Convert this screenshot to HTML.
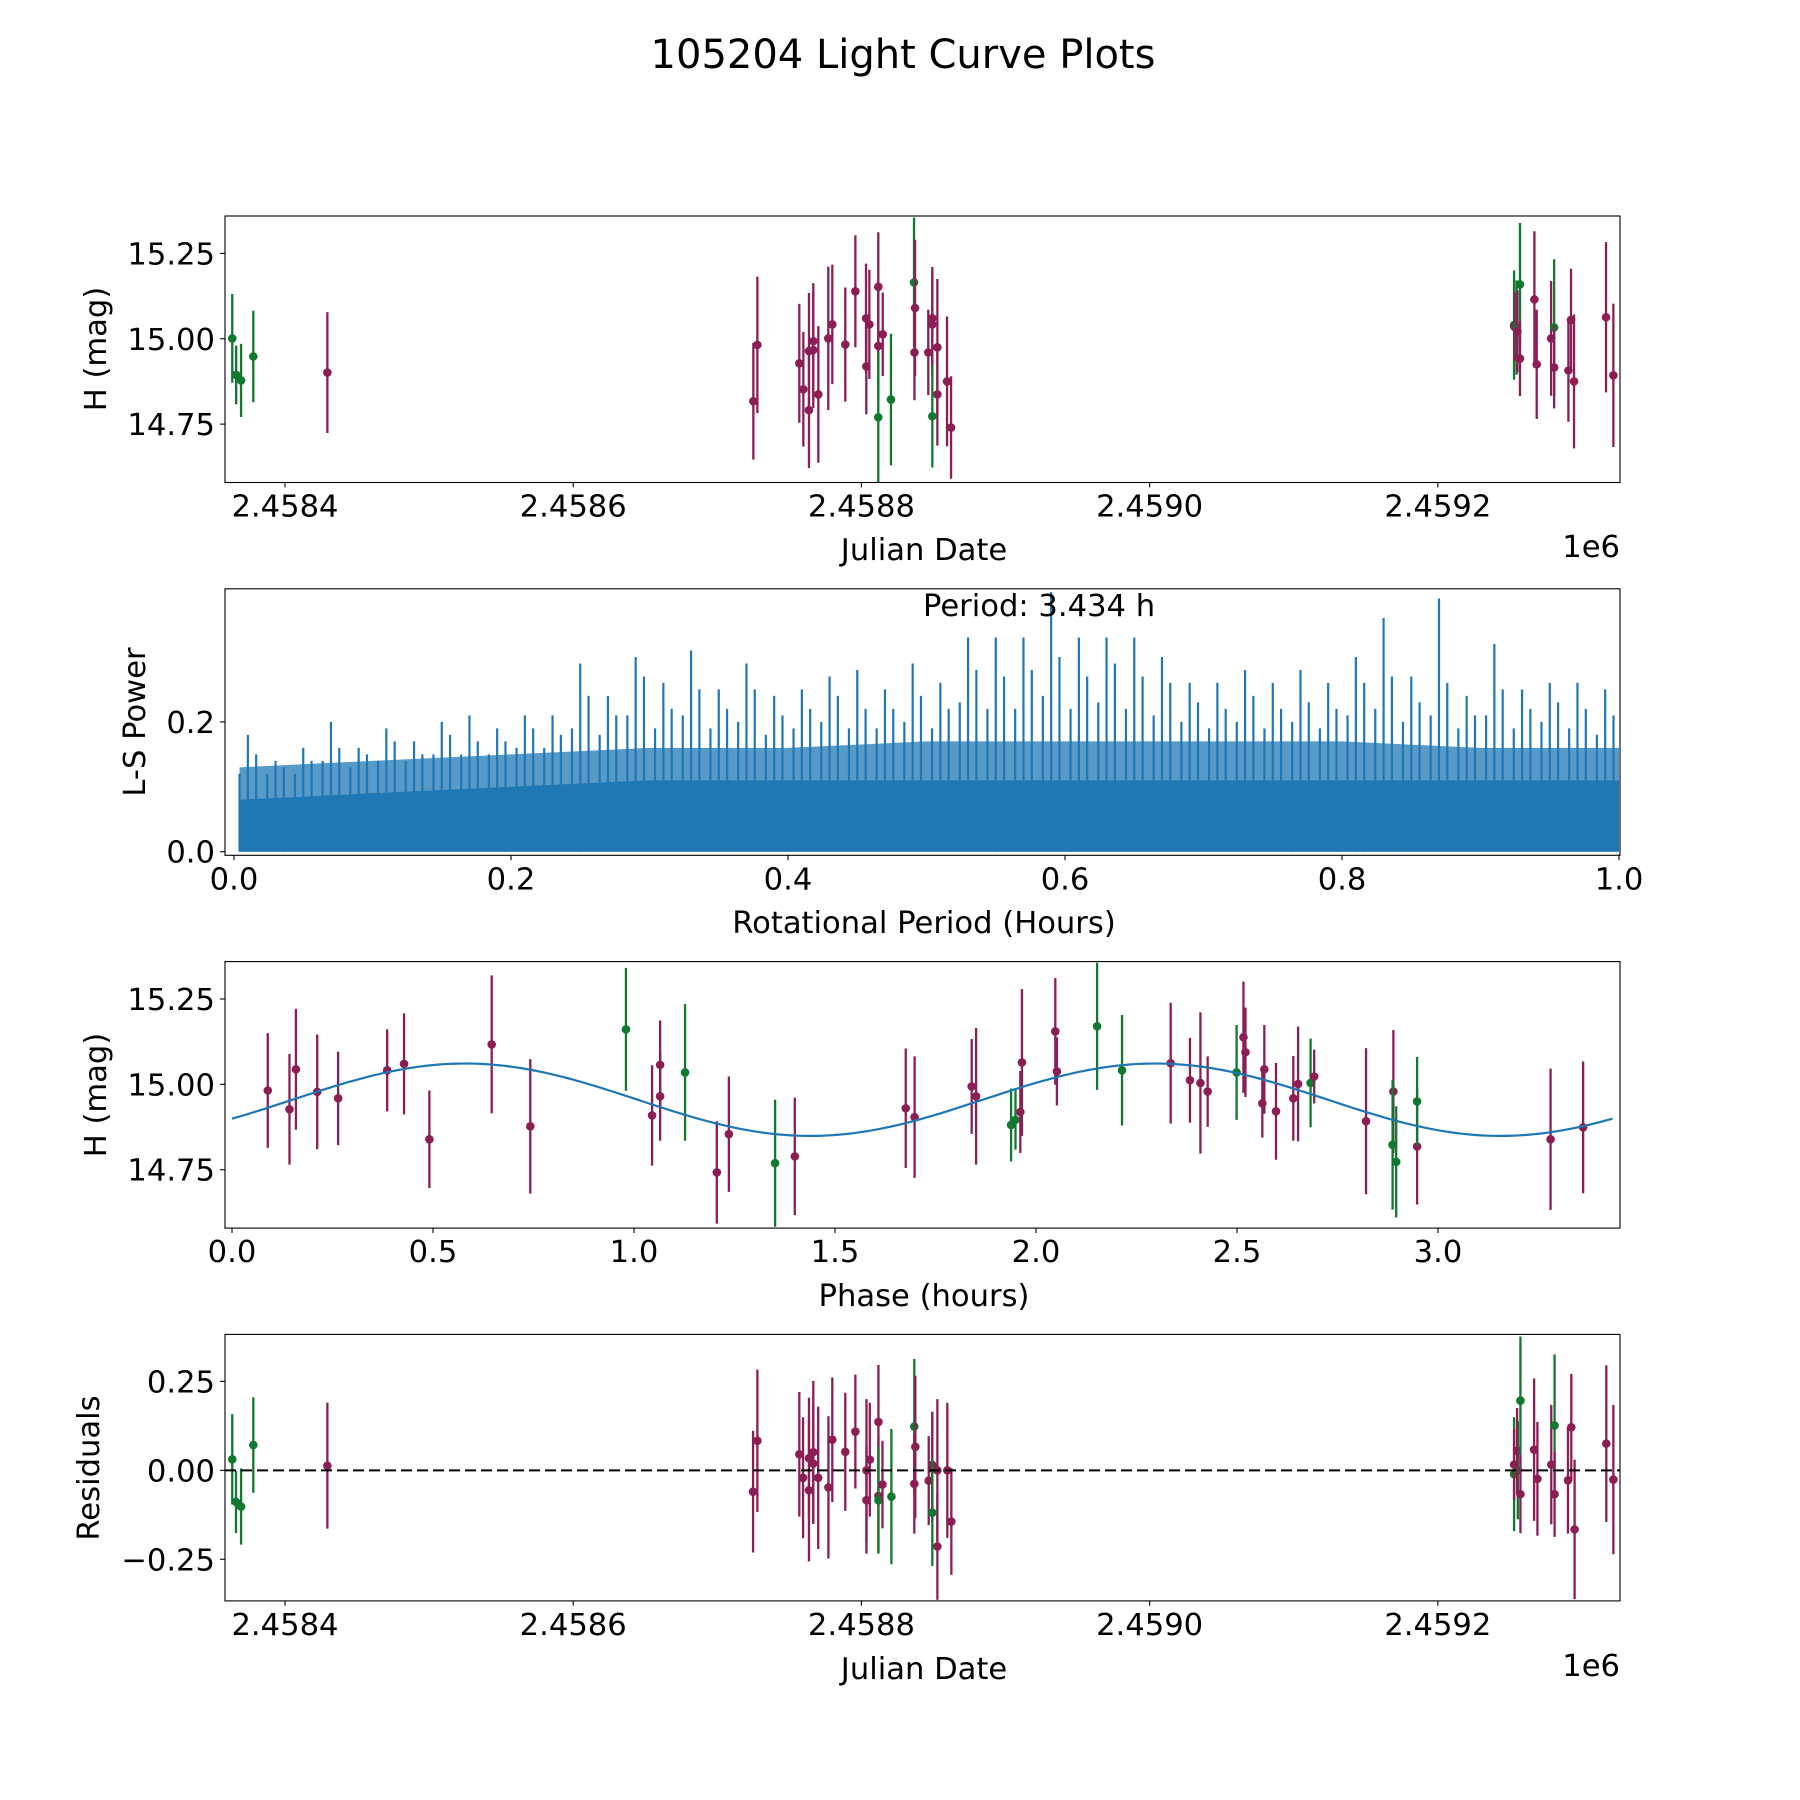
<!DOCTYPE html>
<html><head><meta charset="utf-8"><title>105204 Light Curve Plots</title>
<style>
html,body{margin:0;padding:0;background:#fff;}
svg{display:block;font-family:"DejaVu Sans","Liberation Sans",sans-serif;}
text{fill:#000;}
</style></head>
<body>
<svg id="fig" width="1800" height="1800" viewBox="0 0 1800 1800" xmlns="http://www.w3.org/2000/svg">
<rect x="0" y="0" width="1800" height="1800" fill="#fff"/>
<text x="903" y="68" font-size="40" text-anchor="middle">105204 Light Curve Plots</text>
<g id="p1"></g>
<g id="p2"></g>
<g id="p3"></g>
<g id="p4"></g>
<text x="924" y="560" font-size="30.6" text-anchor="middle">Julian Date</text>
<text x="1620" y="557" font-size="30.6" text-anchor="end">1e6</text>
<text transform="translate(106,349) rotate(-90)" font-size="30.6" text-anchor="middle">H (mag)</text>
<text x="923" y="616" font-size="30.6" text-anchor="start">Period: 3.434 h</text>
<text x="924" y="933" font-size="30.6" text-anchor="middle">Rotational Period (Hours)</text>
<text transform="translate(145,722) rotate(-90)" font-size="30.6" text-anchor="middle">L-S Power</text>
<text x="924" y="1306" font-size="30.6" text-anchor="middle">Phase (hours)</text>
<text transform="translate(106,1095) rotate(-90)" font-size="30.6" text-anchor="middle">H (mag)</text>
<text x="924" y="1679" font-size="30.6" text-anchor="middle">Julian Date</text>
<text x="1620" y="1676" font-size="30.6" text-anchor="end">1e6</text>
<text transform="translate(99,1468) rotate(-90)" font-size="30.6" text-anchor="middle">Residuals</text>
</svg>
<script>
// ---------- data: light curve (days from JD 2458400) ----------
const lcDay = [-36.6,-33.9,-30.5,-22,29.4,
 325,327.8,356.9,359.7,363.6,363.6,366.6,366.6,370.1,377,379.8,388.8,395.8,403.2,405.5,403.4,411.7,411.7,414.8,411.7,420.5,436.5,437.2,436.8,446.4,449.2,449.2,452.7,452.7,449.2,459.4,462.2,
 852.9,853.2,854.7,855.2,857,857,867,868.6,878.6,880.7,880.7,890.6,892.4,894.5,916.7,921.8];
const lcMag = [15.001,14.894,14.878,14.948,14.901,
 14.817,14.982,14.928,14.852,14.791,14.964,14.993,14.967,14.837,15.001,15.042,14.983,15.139,15.06,15.042,14.919,15.152,14.979,15.013,14.77,14.822,15.165,15.09,14.96,14.96,15.06,15.042,14.975,14.837,14.773,14.875,14.74,
 15.04,15.035,15.033,15.022,15.159,14.942,15.115,14.925,15.001,15.033,14.916,14.907,15.055,14.875,15.063,14.893];
const lcErr = [0.13,0.086,0.107,0.134,0.177,
 0.171,0.2,0.174,0.168,0.17,0.17,0.17,0.17,0.2,0.21,0.175,0.167,0.164,0.16,0.16,0.14,0.16,0.16,0.122,0.19,0.193,0.19,0.2,0.14,0.125,0.15,0.15,0.2,0.15,0.15,0.19,0.15,
 0.16,0.1,0.138,0.12,0.18,0.11,0.2,0.16,0.168,0.2,0.12,0.15,0.15,0.196,0.22,0.21];
const lcBand = ["G","G","G","G","P",
 "P","P","P","P","P","P","P","P","P","P","P","P","P","P","P","P","P","P","P","G","G","G","P","P","P","P","P","P","P","G","P","P",
 "G","P","G","P","G","P","P","P","P","G","P","P","P","P","P","P"];
const jdTicks = [0,200,400,600,800];
const jdTickLabels = ["2.4584","2.4586","2.4588","2.4590","2.4592"];
const magTicks = [14.75,15.0,15.25];
const magTickLabels = ["14.75","15.00","15.25"];

// ---------- data: periodogram (bins of 0.02 h) ----------
const lsPeak = [0.18,0.14,0.16,0.20,0.16,0.19,0.17,0.20,0.21,0.19,0.21,0.21,0.29,0.24,0.30,0.26,0.31,0.25,0.29,0.24,
 0.25,0.27,0.28,0.25,0.29,0.26,0.33,0.33,0.33,0.40,0.33,0.33,0.33,0.30,0.26,0.26,0.28,0.26,0.28,0.26,
 0.30,0.36,0.27,0.39,0.24,0.32,0.25,0.26,0.26,0.25];
const lsPeak2 = [0.15,0.13,0.14,0.16,0.15,0.17,0.15,0.18,0.17,0.17,0.19,0.18,0.24,0.21,0.27,0.22,0.25,0.22,0.25,0.21,
 0.22,0.24,0.22,0.22,0.24,0.22,0.28,0.27,0.28,0.30,0.27,0.29,0.27,0.26,0.23,0.22,0.24,0.22,0.23,0.22,
 0.26,0.27,0.23,0.26,0.21,0.25,0.22,0.23,0.22,0.21];
const lsPeak3 = [0.12,0.12,0.12,0.14,0.13,0.14,0.14,0.15,0.15,0.15,0.16,0.16,0.19,0.18,0.21,0.19,0.21,0.19,0.20,0.18,
 0.19,0.20,0.19,0.19,0.20,0.19,0.23,0.22,0.22,0.24,0.22,0.23,0.22,0.21,0.20,0.19,0.20,0.19,0.20,0.19,
 0.21,0.22,0.20,0.21,0.19,0.21,0.19,0.20,0.19,0.18];
const lsFloor = [0.08,0.09,0.10,0.11,0.11,0.11,0.11,0.11,0.11,0.11,0.11];
const lsBand = [0.13,0.14,0.15,0.16,0.16,0.17,0.17,0.17,0.17,0.16,0.16];
const lsXTicks = [0,0.2,0.4,0.6,0.8,1.0];
const lsXTickLabels = ["0.0","0.2","0.4","0.6","0.8","1.0"];
const lsYTicks = [0,0.2];
const lsYTickLabels = ["0.0","0.2"];

// ---------- data: phased curve ----------
const phHour = [0.089,0.143,0.159,0.212,0.264,0.386,0.428,0.491,0.646,0.742,0.98,1.045,1.065,1.065,1.127,1.206,1.236,1.351,1.4,1.676,1.698,1.84,1.851,1.938,1.949,1.961,1.965,2.048,2.052,2.152,2.214,2.335,2.383,2.409,2.427,2.499,2.516,2.521,2.568,2.563,2.597,2.64,2.652,2.683,2.692,2.821,2.889,2.887,2.896,2.948,2.948,3.28,3.361];
const phMag = [14.982,14.927,15.044,14.978,14.959,15.041,15.06,14.839,15.117,14.877,15.161,14.909,15.057,14.965,15.035,14.742,14.854,14.769,14.789,14.93,14.904,14.994,14.965,14.881,14.896,14.919,15.064,15.155,15.038,15.17,15.041,15.062,15.012,15.004,14.979,15.035,15.138,15.094,15.044,14.944,14.921,14.959,15.001,15.004,15.023,14.892,14.979,14.823,14.773,14.818,14.95,14.839,14.874];
const phErr = [0.168,0.162,0.177,0.168,0.137,0.12,0.148,0.143,0.202,0.197,0.18,0.147,0.13,0.13,0.2,0.15,0.169,0.186,0.172,0.175,0.178,0.139,0.2,0.107,0.087,0.12,0.215,0.156,0.1,0.186,0.162,0.177,0.124,0.207,0.103,0.139,0.163,0.131,0.13,0.1,0.142,0.124,0.168,0.13,0.079,0.214,0.18,0.19,0.163,0.17,0.13,0.207,0.193];
const phBand = ["P","P","P","P","P","P","P","P","P","P","G","P","P","P","G","P","P","G","P","P","P","P","P","G","G","P","P","P","P","G","G","P","P","P","P","G","P","P","P","P","P","P","P","G","P","P","P","G","G","P","G","P","P"];
const fitParams = [14.955, 0.106, 3.434, -0.551]; // mean, amplitude, period (h), phase offset
const phTicks = [0,0.5,1.0,1.5,2.0,2.5,3.0];
const phTickLabels = ["0.0","0.5","1.0","1.5","2.0","2.5","3.0"];

// ---------- data: residuals ----------
const resDay = [-36.6,-34,-30.5,-22,29.4,
 324.8,327.8,356.9,359.5,363.6,363.6,366.6,366.6,370,377.1,379.8,388.8,395.8,403.5,405.8,403.5,411.8,411.8,411.8,414.6,420.8,436.7,437.4,436.7,446.7,449.2,449.2,452.7,452.7,449.2,459.6,462.4,
 852.9,852.9,855.5,855,857.3,857.3,866.8,869.1,878.7,881,881,890.3,892.6,894.9,916.9,921.8];
const resVal = [0.031,-0.089,-0.102,0.071,0.013,
 -0.06,0.083,0.045,-0.021,-0.056,0.034,0.051,0.019,-0.021,-0.048,0.086,0.052,0.109,0.0,0.03,-0.084,0.136,-0.072,-0.084,-0.04,-0.074,0.123,0.066,-0.038,-0.029,0.015,0.005,0.0,-0.214,-0.119,0.0,-0.144,
 -0.011,0.016,0.0,0.055,0.196,-0.067,0.058,-0.024,0.016,0.126,-0.067,-0.028,0.121,-0.166,0.075,-0.026];
const resErr = [0.127,0.087,0.107,0.134,0.177,
 0.171,0.2,0.175,0.17,0.2,0.17,0.2,0.17,0.2,0.2,0.175,0.166,0.16,0.2,0.16,0.15,0.16,0.16,0.15,0.123,0.19,0.19,0.2,0.14,0.125,0.15,0.15,0.2,0.15,0.15,0.19,0.15,
 0.16,0.1,0.138,0.12,0.18,0.11,0.2,0.16,0.168,0.2,0.12,0.15,0.15,0.196,0.22,0.21];
const resBand = ["G","G","G","G","P",
 "P","P","P","P","P","P","P","P","P","P","P","P","P","P","P","P","P","P","G","P","G","G","P","P","P","P","P","P","P","G","P","P",
 "G","P","G","P","G","P","P","P","P","G","P","P","P","P","P","P"];
const resTicks = [-0.25,0,0.25];
const resTickLabels = ["\u22120.25","0.00","0.25"];

// ---------- rendering ----------
const NS = "http://www.w3.org/2000/svg";
const COL = {P:"#8a1e55", G:"#11782f"};
const BLUE = "#1f77b4";
const L = 225, R = 1620, AH = 266.5;
const TOPS = [216, 588.8, 961.6, 1334.4];

function el(tag, attrs, parent) {
  const e = document.createElementNS(NS, tag);
  for (const k in attrs) e.setAttribute(k, attrs[k]);
  parent.appendChild(e);
  return e;
}
function lin(d0, d1, r0, r1) { return v => r0 + (v - d0) * (r1 - r0) / (d1 - d0); }

function axesFrame(g, top, xs, ys, xt, xtl, yt, ytl) {
  const bottom = top + AH;
  xt.forEach((v, i) => {
    const x = xs(v);
    const t = el("line", {x1:x, x2:x, y1:bottom, y2:bottom+4.9, stroke:"#000", "stroke-width":1.1}, g);
    
    
    const lb = el("text", {x:x, y:bottom+34, "font-size":30.6, "text-anchor":"middle"}, g);
    lb.textContent = xtl[i];
    
    
  });
  yt.forEach((v, i) => {
    const y = ys(v);
    const t = el("line", {x1:L-4.9, x2:L, y1:y, y2:y, stroke:"#000", "stroke-width":1.1}, g);
    
    
    const lb = el("text", {x:L-10, y:y+11, "font-size":30.6, "text-anchor":"end"}, g);
    lb.textContent = ytl[i];
    
    
  });
}
function box(g, top) {
  const b = el("rect", {x:L, y:top, width:R-L, height:AH, fill:"none", stroke:"#000", "stroke-width":1.1}, g);
  
  
}
function clipFor(id, top) {
  const defs = document.querySelector("#fig defs") || el("defs", {}, document.getElementById("fig"));
  const cp = el("clipPath", {id:id}, defs);
  el("rect", {x:L, y:top, width:R-L, height:AH}, cp);
  return "url(#" + id + ")";
}
function errPoints(g, xv, yv, ev, bv, xs, ys, name) {
  for (let i = 0; i < xv.length; i++) {
    const c = COL[bv[i]];
    const x = xs(xv[i]);
    const pg = el("g", {}, g);
    
    
    el("line", {x1:x, x2:x, y1:ys(yv[i]-ev[i]), y2:ys(yv[i]+ev[i]), stroke:c, "stroke-width":2.3}, pg);
    el("circle", {cx:x, cy:ys(yv[i]), r:4.3, fill:c}, pg);
  }
}

// Panel 1: light curve
(function(){
  const g = document.getElementById("p1"), top = TOPS[0];
  const xs = lin(-41.64, 926.4, L, R);
  const ys = lin(14.579, 15.3595, top+AH, top);
  const pl = el("g", {"clip-path":clipFor("c1", top)}, g);
  errPoints(pl, lcDay, lcMag, lcErr, lcBand, xs, ys, "observation-point");
  box(g, top);
  axesFrame(g, top, xs, ys, jdTicks, jdTickLabels, magTicks, magTickLabels);
})();

// Panel 2: periodogram
(function(){
  const g = document.getElementById("p2"), top = TOPS[1];
  const xs = lin(-0.0065, 1.0007, L, R);
  const ys = lin(-0.0055, 0.405, top+AH, top);
  const pl = el("g", {"clip-path":clipFor("c2", top)}, g);
  function smoothArea(arr) {
    let d = "M" + xs(0.004) + "," + ys(0);
    arr.forEach((v, i) => { d += " L" + xs(Math.max(0.004, Math.min(1, i*0.1))) + "," + ys(v); });
    return d + " L" + xs(1.0) + "," + ys(0) + " Z";
  }
  const band = el("path", {d:smoothArea(lsBand), fill:BLUE, opacity:0.75}, pl);
  
  
  const floor = el("path", {d:smoothArea(lsFloor), fill:BLUE}, pl);
  
  
  const spikeSets = [[lsPeak3, 0.004], [lsPeak2, 0.016], [lsPeak, 0.010]];
  spikeSets.forEach(([arr, off]) => {
    arr.forEach((v, i) => {
      const x = xs(i*0.02 + off);
      const ln = el("line", {x1:x, x2:x, y1:ys(0), y2:ys(v), stroke:BLUE, "stroke-width":2.2}, pl);
      
      
    });
  });
  box(g, top);
  axesFrame(g, top, xs, ys, lsXTicks, lsXTickLabels, lsYTicks, lsYTickLabels);
})();

// Panel 3: phased
(function(){
  const g = document.getElementById("p3"), top = TOPS[2];
  const xs = lin(-0.0174, 3.4527, L, R);
  const ys = lin(14.579, 15.3595, top+AH, top);
  const pl = el("g", {"clip-path":clipFor("c3", top)}, g);
  let d = "";
  const N = 300;
  for (let k = 0; k <= N; k++) {
    const p = fitParams[2] * k / N;
    const m = fitParams[0] + fitParams[1] * Math.sin(4*Math.PI*p/fitParams[2] + fitParams[3]);
    d += (k ? " L" : "M") + xs(p).toFixed(2) + "," + ys(m).toFixed(2);
  }
  errPoints(pl, phHour, phMag, phErr, phBand, xs, ys, "phased-point");
  const fit = el("path", {d:d, fill:"none", stroke:BLUE, "stroke-width":2.2}, pl);
  
  
  box(g, top);
  axesFrame(g, top, xs, ys, phTicks, phTickLabels, magTicks, magTickLabels);
})();

// Panel 4: residuals
(function(){
  const g = document.getElementById("p4"), top = TOPS[3];
  const xs = lin(-41.64, 926.4, L, R);
  const ys = lin(-0.367, 0.382, top+AH, top);
  const pl = el("g", {"clip-path":clipFor("c4", top)}, g);
  errPoints(pl, resDay, resVal, resErr, resBand, xs, ys, "residual-point");
  const zl = el("line", {x1:L, x2:R, y1:ys(0), y2:ys(0), stroke:"#000", "stroke-width":2, "stroke-dasharray":"11,5"}, pl);
  
  
  box(g, top);
  axesFrame(g, top, xs, ys, jdTicks, jdTickLabels, resTicks, resTickLabels);
})();
</script>
</body></html>
